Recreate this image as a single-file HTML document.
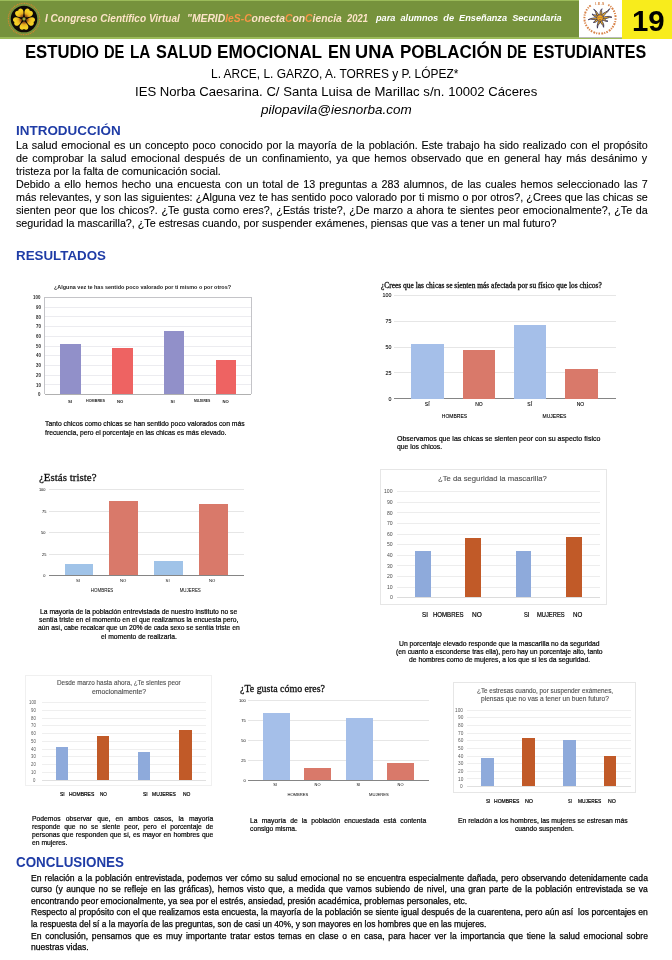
<!DOCTYPE html>
<html lang="es"><head><meta charset="utf-8"><title>Estudio de la salud emocional en una población de estudiantes</title>
<style>
html,body{margin:0;padding:0;background:#fff;}
#p{position:relative;width:672px;height:960px;overflow:hidden;background:#fff;}
#p div{position:absolute;}
#p svg{position:absolute;}
#p .t{white-space:pre;line-height:normal;transform-origin:0 0;}
</style></head><body><div id="p">
<div style="left:0.00px;top:0.00px;width:672.00px;height:38.50px;background:#9bbb59;"></div>
<div style="left:0.00px;top:1.20px;width:579.20px;height:35.80px;background:#76923c;"></div>
<div style="left:579.20px;top:0.00px;width:43.00px;height:38.00px;background:#fff;border-bottom:1px solid #bbb;box-sizing:border-box;"></div>
<div style="left:622.20px;top:0.00px;width:50.00px;height:38.50px;background:#f8ec1c;"></div>
<svg style="left:6.2px;top:0.9px" width="36" height="36" viewBox="-18 -18 36 36">
<defs><radialGradient id="fg" cx="0" cy="0" r="9" gradientUnits="userSpaceOnUse"><stop offset="0" stop-color="#5a2c10"/><stop offset="0.42" stop-color="#9a5418"/><stop offset="0.7" stop-color="#e9b01e"/><stop offset="1" stop-color="#f4cf25"/></radialGradient></defs>
<circle r="15.7" fill="none" stroke="#d9852e" stroke-width="1.1" stroke-dasharray="1.2 0.8 0.8 0.7"/>
<circle r="13.3" fill="#0c0907"/>
<g fill="url(#fg)" transform="scale(0.92)"><path d="M0,-2.2 C-2.2,-4 -6.2,-7.6 -4.3,-10.6 C-3.2,-12.3 -1,-12 0,-10.9 C1,-12 3.2,-12.3 4.3,-10.6 C6.2,-7.6 2.2,-4 0,-2.2Z" transform="rotate(36)"/><path d="M0,-2.2 C-2.2,-4 -6.2,-7.6 -4.3,-10.6 C-3.2,-12.3 -1,-12 0,-10.9 C1,-12 3.2,-12.3 4.3,-10.6 C6.2,-7.6 2.2,-4 0,-2.2Z" transform="rotate(108)"/><path d="M0,-2.2 C-2.2,-4 -6.2,-7.6 -4.3,-10.6 C-3.2,-12.3 -1,-12 0,-10.9 C1,-12 3.2,-12.3 4.3,-10.6 C6.2,-7.6 2.2,-4 0,-2.2Z" transform="rotate(180)"/><path d="M0,-2.2 C-2.2,-4 -6.2,-7.6 -4.3,-10.6 C-3.2,-12.3 -1,-12 0,-10.9 C1,-12 3.2,-12.3 4.3,-10.6 C6.2,-7.6 2.2,-4 0,-2.2Z" transform="rotate(252)"/><path d="M0,-2.2 C-2.2,-4 -6.2,-7.6 -4.3,-10.6 C-3.2,-12.3 -1,-12 0,-10.9 C1,-12 3.2,-12.3 4.3,-10.6 C6.2,-7.6 2.2,-4 0,-2.2Z" transform="rotate(324)"/></g>
<circle r="1.7" fill="#8d9630"/><circle r="0.7" fill="#c9c24a"/>
</svg>
<svg style="left:582px;top:-0.2px" width="36" height="36" viewBox="-18 -18 36 36">
<path d="M8.27,-13.23 A15.6,15.6 0 1 1 -8.27,-13.23" fill="none" stroke="#d8844a" stroke-width="2.0" stroke-dasharray="1.5 1.2 1.1 1 1.9 1.3"/><text x="0" y="-12.6" font-family="Liberation Sans, sans-serif" font-size="3.3" font-weight="700" fill="#cf7434" text-anchor="middle" letter-spacing="0.5">I.E.S</text>
<g fill="#f6b21c" stroke="#2d2c58" stroke-width="0.75" stroke-linejoin="round"><path d="M-1.05,-2.4 C-2.25,-4.86 0.80,-7.56 -0.50,-10.80 C1.40,-7.78 0.05,-4.86 1.05,-2.4Z" transform="rotate(-33)"/><path d="M-1.05,-2.4 C0.15,-4.28 -2.00,-6.65 0.50,-9.50 C-0.40,-6.84 2.45,-4.28 1.05,-2.4Z" transform="rotate(9)"/><path d="M-1.05,-2.4 C-2.25,-6.08 0.80,-9.45 -0.50,-13.50 C1.40,-9.72 0.05,-6.08 1.05,-2.4Z" transform="rotate(48)"/><path d="M-1.05,-2.4 C0.15,-5.40 -2.00,-8.40 0.50,-12.00 C-0.40,-8.64 2.45,-5.40 1.05,-2.4Z" transform="rotate(84)"/><path d="M-1.05,-2.4 C-2.25,-3.87 0.80,-6.02 -0.50,-8.60 C1.40,-6.19 0.05,-3.87 1.05,-2.4Z" transform="rotate(115)"/><path d="M-1.05,-2.4 C0.15,-4.50 -2.00,-7.00 0.50,-10.00 C-0.40,-7.20 2.45,-4.50 1.05,-2.4Z" transform="rotate(156)"/><path d="M-1.05,-2.4 C-2.25,-4.73 0.80,-7.35 -0.50,-10.50 C1.40,-7.56 0.05,-4.73 1.05,-2.4Z" transform="rotate(197)"/><path d="M-1.05,-2.4 C0.15,-3.60 -2.00,-5.60 0.50,-8.00 C-0.40,-5.76 2.45,-3.60 1.05,-2.4Z" transform="rotate(233)"/><path d="M-1.05,-2.4 C-2.25,-5.40 0.80,-8.40 -0.50,-12.00 C1.40,-8.64 0.05,-5.40 1.05,-2.4Z" transform="rotate(264)"/><path d="M-1.05,-2.4 C0.15,-3.96 -2.00,-6.16 0.50,-8.80 C-0.40,-6.34 2.45,-3.96 1.05,-2.4Z" transform="rotate(294)"/></g>
<circle r="3.3" fill="#f3a620" stroke="#3a3560" stroke-width="0.6"/>
<path d="M-1.6,-0.6h1M0.6,-0.6h1M-1.2,1.3q1.2,0.9 2.4,0" stroke="#4a3a50" stroke-width="0.5" fill="none"/>
</svg>
<div style="left:44.70px;top:394.00px;width:206.55px;height:0.80px;background:#b0b0b0;"></div>
<div style="left:44.70px;top:384.30px;width:206.55px;height:0.80px;background:#ececf0;"></div>
<div style="left:44.70px;top:374.60px;width:206.55px;height:0.80px;background:#ececf0;"></div>
<div style="left:44.70px;top:364.90px;width:206.55px;height:0.80px;background:#ececf0;"></div>
<div style="left:44.70px;top:355.20px;width:206.55px;height:0.80px;background:#ececf0;"></div>
<div style="left:44.70px;top:345.50px;width:206.55px;height:0.80px;background:#ececf0;"></div>
<div style="left:44.70px;top:335.80px;width:206.55px;height:0.80px;background:#ececf0;"></div>
<div style="left:44.70px;top:326.10px;width:206.55px;height:0.80px;background:#ececf0;"></div>
<div style="left:44.70px;top:316.40px;width:206.55px;height:0.80px;background:#ececf0;"></div>
<div style="left:44.70px;top:306.70px;width:206.55px;height:0.80px;background:#ececf0;"></div>
<div style="left:44.70px;top:297.00px;width:206.55px;height:0.80px;background:#ececf0;"></div>
<div style="left:44.30px;top:297.40px;width:0.80px;height:97.00px;background:#c4c4c8;"></div>
<div style="left:250.85px;top:297.40px;width:0.80px;height:97.00px;background:#c4c4c8;"></div>
<div style="left:44.70px;top:297.00px;width:206.55px;height:0.80px;background:#c4c4c8;"></div>
<div style="left:60.30px;top:343.96px;width:21.00px;height:50.44px;background:#9190c9;"></div>
<div style="left:112.00px;top:347.84px;width:20.50px;height:46.56px;background:#ee6362;"></div>
<div style="left:163.75px;top:331.35px;width:20.50px;height:63.05px;background:#9190c9;"></div>
<div style="left:215.50px;top:360.45px;width:20.25px;height:33.95px;background:#ee6362;"></div>
<div style="left:393.50px;top:398.25px;width:222.00px;height:0.90px;background:#858585;"></div>
<div style="left:393.50px;top:372.40px;width:222.00px;height:0.90px;background:#e6e6e6;"></div>
<div style="left:393.50px;top:346.55px;width:222.00px;height:0.90px;background:#e6e6e6;"></div>
<div style="left:393.50px;top:320.70px;width:222.00px;height:0.90px;background:#e6e6e6;"></div>
<div style="left:393.50px;top:294.85px;width:222.00px;height:0.90px;background:#e6e6e6;"></div>
<div style="left:411.30px;top:343.90px;width:32.90px;height:54.80px;background:#a5bfe9;"></div>
<div style="left:462.50px;top:350.10px;width:32.50px;height:48.60px;background:#d9796a;"></div>
<div style="left:513.75px;top:325.29px;width:32.50px;height:73.41px;background:#a5bfe9;"></div>
<div style="left:564.50px;top:368.71px;width:33.00px;height:29.99px;background:#d9796a;"></div>
<div style="left:49.00px;top:575.05px;width:194.50px;height:0.90px;background:#858585;"></div>
<div style="left:49.00px;top:553.61px;width:194.50px;height:0.90px;background:#e6e6e6;"></div>
<div style="left:49.00px;top:532.17px;width:194.50px;height:0.90px;background:#e6e6e6;"></div>
<div style="left:49.00px;top:510.74px;width:194.50px;height:0.90px;background:#e6e6e6;"></div>
<div style="left:49.00px;top:489.30px;width:194.50px;height:0.90px;background:#e6e6e6;"></div>
<div style="left:64.50px;top:564.35px;width:28.75px;height:11.15px;background:#a0c3e8;"></div>
<div style="left:109.25px;top:500.90px;width:28.75px;height:74.60px;background:#d9796a;"></div>
<div style="left:154.25px;top:560.92px;width:28.50px;height:14.58px;background:#a0c3e8;"></div>
<div style="left:199.25px;top:504.33px;width:28.25px;height:71.17px;background:#d9796a;"></div>
<div style="left:380.00px;top:468.50px;width:226.50px;height:136.00px;background:#fff;border:1px solid #e6e6e6;box-sizing:border-box;"></div>
<div style="left:397.00px;top:597.10px;width:202.50px;height:0.80px;background:#dcdcdc;"></div>
<div style="left:397.00px;top:586.50px;width:202.50px;height:0.80px;background:#ededed;"></div>
<div style="left:397.00px;top:575.90px;width:202.50px;height:0.80px;background:#ededed;"></div>
<div style="left:397.00px;top:565.30px;width:202.50px;height:0.80px;background:#ededed;"></div>
<div style="left:397.00px;top:554.70px;width:202.50px;height:0.80px;background:#ededed;"></div>
<div style="left:397.00px;top:544.10px;width:202.50px;height:0.80px;background:#ededed;"></div>
<div style="left:397.00px;top:533.50px;width:202.50px;height:0.80px;background:#ededed;"></div>
<div style="left:397.00px;top:522.90px;width:202.50px;height:0.80px;background:#ededed;"></div>
<div style="left:397.00px;top:512.30px;width:202.50px;height:0.80px;background:#ededed;"></div>
<div style="left:397.00px;top:501.70px;width:202.50px;height:0.80px;background:#ededed;"></div>
<div style="left:397.00px;top:491.10px;width:202.50px;height:0.80px;background:#ededed;"></div>
<div style="left:415.00px;top:550.86px;width:15.50px;height:46.64px;background:#8eaadb;"></div>
<div style="left:465.25px;top:538.14px;width:15.75px;height:59.36px;background:#c15a28;"></div>
<div style="left:515.50px;top:550.86px;width:15.50px;height:46.64px;background:#8eaadb;"></div>
<div style="left:566.00px;top:537.08px;width:15.50px;height:60.42px;background:#c15a28;"></div>
<div style="left:25.00px;top:675.30px;width:186.50px;height:111.20px;background:#fff;border:1px solid #f0f0f0;box-sizing:border-box;"></div>
<div style="left:42.00px;top:779.60px;width:164.30px;height:0.80px;background:#e0e0e0;"></div>
<div style="left:42.00px;top:771.86px;width:164.30px;height:0.80px;background:#efefef;"></div>
<div style="left:42.00px;top:764.12px;width:164.30px;height:0.80px;background:#efefef;"></div>
<div style="left:42.00px;top:756.38px;width:164.30px;height:0.80px;background:#efefef;"></div>
<div style="left:42.00px;top:748.64px;width:164.30px;height:0.80px;background:#efefef;"></div>
<div style="left:42.00px;top:740.90px;width:164.30px;height:0.80px;background:#efefef;"></div>
<div style="left:42.00px;top:733.16px;width:164.30px;height:0.80px;background:#efefef;"></div>
<div style="left:42.00px;top:725.42px;width:164.30px;height:0.80px;background:#efefef;"></div>
<div style="left:42.00px;top:717.68px;width:164.30px;height:0.80px;background:#efefef;"></div>
<div style="left:42.00px;top:709.94px;width:164.30px;height:0.80px;background:#efefef;"></div>
<div style="left:42.00px;top:702.20px;width:164.30px;height:0.80px;background:#efefef;"></div>
<div style="left:55.50px;top:746.72px;width:12.50px;height:33.28px;background:#8eaadb;"></div>
<div style="left:96.50px;top:735.88px;width:12.50px;height:44.12px;background:#c15a28;"></div>
<div style="left:137.50px;top:752.14px;width:12.50px;height:27.86px;background:#8eaadb;"></div>
<div style="left:178.50px;top:730.46px;width:13.00px;height:49.54px;background:#c15a28;"></div>
<div style="left:248.00px;top:779.80px;width:180.50px;height:0.90px;background:#858585;"></div>
<div style="left:248.00px;top:759.80px;width:180.50px;height:0.90px;background:#e6e6e6;"></div>
<div style="left:248.00px;top:739.80px;width:180.50px;height:0.90px;background:#e6e6e6;"></div>
<div style="left:248.00px;top:719.80px;width:180.50px;height:0.90px;background:#e6e6e6;"></div>
<div style="left:248.00px;top:699.80px;width:180.50px;height:0.90px;background:#e6e6e6;"></div>
<div style="left:263.00px;top:713.05px;width:26.50px;height:67.20px;background:#a5bfe9;"></div>
<div style="left:304.25px;top:768.25px;width:26.50px;height:12.00px;background:#d9796a;"></div>
<div style="left:345.75px;top:717.85px;width:26.75px;height:62.40px;background:#a5bfe9;"></div>
<div style="left:387.00px;top:762.65px;width:26.75px;height:17.60px;background:#d9796a;"></div>
<div style="left:452.75px;top:682.00px;width:183.50px;height:110.75px;background:#fff;border:1px solid #e6e6e6;box-sizing:border-box;"></div>
<div style="left:467.00px;top:786.10px;width:163.50px;height:0.80px;background:#e0e0e0;"></div>
<div style="left:467.00px;top:778.45px;width:163.50px;height:0.80px;background:#efefef;"></div>
<div style="left:467.00px;top:770.80px;width:163.50px;height:0.80px;background:#efefef;"></div>
<div style="left:467.00px;top:763.15px;width:163.50px;height:0.80px;background:#efefef;"></div>
<div style="left:467.00px;top:755.50px;width:163.50px;height:0.80px;background:#efefef;"></div>
<div style="left:467.00px;top:747.85px;width:163.50px;height:0.80px;background:#efefef;"></div>
<div style="left:467.00px;top:740.20px;width:163.50px;height:0.80px;background:#efefef;"></div>
<div style="left:467.00px;top:732.55px;width:163.50px;height:0.80px;background:#efefef;"></div>
<div style="left:467.00px;top:724.90px;width:163.50px;height:0.80px;background:#efefef;"></div>
<div style="left:467.00px;top:717.25px;width:163.50px;height:0.80px;background:#efefef;"></div>
<div style="left:467.00px;top:709.60px;width:163.50px;height:0.80px;background:#efefef;"></div>
<div style="left:481.00px;top:757.74px;width:13.00px;height:28.76px;background:#8eaadb;"></div>
<div style="left:522.10px;top:738.30px;width:12.50px;height:48.20px;background:#c15a28;"></div>
<div style="left:563.10px;top:740.29px;width:12.50px;height:46.21px;background:#8eaadb;"></div>
<div style="left:603.90px;top:755.67px;width:12.60px;height:30.83px;background:#c15a28;"></div>
<div class="t" style='left:44.50px;top:12.00px;font:italic 700 10.9px "Liberation Sans", sans-serif;color:#fde4c8;transform:scaleX(0.9231);'>I Congreso Científico Virtual</div>
<div class="t" style='left:186.55px;top:12.00px;font:italic 700 10.9px "Liberation Sans", sans-serif;color:#fde4c8;transform:scaleX(0.9488);'>"MERID<span style="color:#f79646">IeS-C</span>onecta<span style="color:#f79646">C</span>on<span style="color:#f79646">C</span>iencia</div>
<div class="t" style='left:347.11px;top:12.00px;font:italic 700 10.9px "Liberation Sans", sans-serif;color:#fde4c8;transform:scaleX(0.8641);'>2021</div>
<div class="t" style='left:375.50px;top:13.30px;font:italic 700 9.2px "Liberation Sans", sans-serif;color:#fff;transform:scaleX(0.9987);'>para  alumnos  de  Enseñanza  Secundaria</div>
<div class="t" style='left:631.72px;top:4.50px;font:normal 700 28.6px "Liberation Sans", sans-serif;color:#000;transform:scaleX(1.0283);'>19</div>
<div class="t" style='left:25.33px;top:42.30px;font:normal 700 18.2px "Liberation Sans", sans-serif;color:#000;transform:scaleX(0.9160);'>ESTUDIO</div>
<div class="t" style='left:104.19px;top:42.30px;font:normal 700 18.2px "Liberation Sans", sans-serif;color:#000;transform:scaleX(0.8080);'>DE</div>
<div class="t" style='left:129.66px;top:42.30px;font:normal 700 18.2px "Liberation Sans", sans-serif;color:#000;transform:scaleX(0.8438);'>LA</div>
<div class="t" style='left:155.50px;top:42.30px;font:normal 700 18.2px "Liberation Sans", sans-serif;color:#000;transform:scaleX(0.8919);'>SALUD</div>
<div class="t" style='left:217.05px;top:42.30px;font:normal 700 18.2px "Liberation Sans", sans-serif;color:#000;transform:scaleX(0.9452);'>EMOCIONAL</div>
<div class="t" style='left:327.85px;top:42.30px;font:normal 700 18.2px "Liberation Sans", sans-serif;color:#000;transform:scaleX(0.8971);'>EN</div>
<div class="t" style='left:355.25px;top:42.30px;font:normal 700 18.2px "Liberation Sans", sans-serif;color:#000;transform:scaleX(0.9995);'>UNA</div>
<div class="t" style='left:400.32px;top:42.30px;font:normal 700 18.2px "Liberation Sans", sans-serif;color:#000;transform:scaleX(0.9347);'>POBLACIÓN</div>
<div class="t" style='left:507.21px;top:42.30px;font:normal 700 18.2px "Liberation Sans", sans-serif;color:#000;transform:scaleX(0.7873);'>DE</div>
<div class="t" style='left:532.87px;top:42.30px;font:normal 700 18.2px "Liberation Sans", sans-serif;color:#000;transform:scaleX(0.8824);'>ESTUDIANTES</div>
<div class="t" style='left:211.07px;top:66.00px;font:12.8px "Liberation Sans", sans-serif;color:#000;transform:scaleX(0.9326);'>L. ARCE, L. GARZO, A. TORRES y P. LÓPEZ*</div>
<div class="t" style='left:134.72px;top:84.00px;font:12.8px "Liberation Sans", sans-serif;color:#000;transform:scaleX(1.0262);'>IES Norba Caesarina. C/ Santa Luisa de Marillac s/n. 10002 Cáceres</div>
<div class="t" style='left:260.55px;top:101.50px;font:italic 400 12.8px "Liberation Sans", sans-serif;color:#000;transform:scaleX(1.0536);'>pilopavila@iesnorba.com</div>
<div class="t" style='left:15.75px;top:122.75px;font:normal 700 13px "Liberation Sans", sans-serif;color:#1f3ca6;transform:scaleX(1.0351);'>INTRODUCCIÓN</div>
<div class="t" style='left:15.90px;top:139.00px;font:10.67px "Liberation Sans", sans-serif;color:#000;transform:scaleX(1.0080);word-spacing:0.847px;-webkit-text-stroke:0.1px;'>La salud emocional es un concepto poco conocido por la mayoría de la población. Este trabajo ha sido realizado con el propósito</div>
<div class="t" style='left:15.90px;top:151.93px;font:10.67px "Liberation Sans", sans-serif;color:#000;transform:scaleX(1.0080);word-spacing:1.404px;-webkit-text-stroke:0.1px;'>de comprobar la salud emocional después de un confinamiento, ya que hemos observado que en general hay más desánimo y</div>
<div class="t" style='left:15.90px;top:164.86px;font:10.67px "Liberation Sans", sans-serif;color:#000;transform:scaleX(1.0080);-webkit-text-stroke:0.1px;'>tristeza por la falta de comunicación social.</div>
<div class="t" style='left:15.90px;top:177.79px;font:10.67px "Liberation Sans", sans-serif;color:#000;transform:scaleX(1.0080);word-spacing:1.184px;-webkit-text-stroke:0.1px;'>Debido a ello hemos hecho una encuesta con un total de 13 preguntas a 283 alumnos, de las cuales hemos seleccionado las 7</div>
<div class="t" style='left:15.90px;top:190.72px;font:10.67px "Liberation Sans", sans-serif;color:#000;transform:scaleX(1.0080);word-spacing:0.210px;-webkit-text-stroke:0.1px;'>más relevantes, y son las siguientes: ¿Alguna vez te has sentido poco valorado por ti mismo o por otros?, ¿Crees que las chicas se</div>
<div class="t" style='left:15.90px;top:203.65px;font:10.67px "Liberation Sans", sans-serif;color:#000;transform:scaleX(1.0080);word-spacing:0.657px;-webkit-text-stroke:0.1px;'>sienten peor que los chicos?. ¿Te gusta como eres?, ¿Estás triste?, ¿De marzo a ahora te sientes peor emocionalmente?, ¿Te da</div>
<div class="t" style='left:15.90px;top:216.58px;font:10.67px "Liberation Sans", sans-serif;color:#000;transform:scaleX(1.0080);-webkit-text-stroke:0.1px;'>seguridad la mascarilla?, ¿Te estresas cuando, por suspender exámenes, piensas que vas a tener un mal futuro?</div>
<div class="t" style='left:15.75px;top:247.50px;font:normal 700 13px "Liberation Sans", sans-serif;color:#1f3ca6;transform:scaleX(1.0261);'>RESULTADOS</div>
<div class="t" style='left:38.04px;top:392.20px;font:normal 700 4.8px "Liberation Sans", sans-serif;color:#2a2a2a;transform:scaleX(0.9200);'>0</div>
<div class="t" style='left:35.59px;top:382.50px;font:normal 700 4.8px "Liberation Sans", sans-serif;color:#2a2a2a;transform:scaleX(0.9200);'>10</div>
<div class="t" style='left:35.59px;top:372.80px;font:normal 700 4.8px "Liberation Sans", sans-serif;color:#2a2a2a;transform:scaleX(0.9200);'>20</div>
<div class="t" style='left:35.59px;top:363.10px;font:normal 700 4.8px "Liberation Sans", sans-serif;color:#2a2a2a;transform:scaleX(0.9200);'>30</div>
<div class="t" style='left:35.59px;top:353.40px;font:normal 700 4.8px "Liberation Sans", sans-serif;color:#2a2a2a;transform:scaleX(0.9200);'>40</div>
<div class="t" style='left:35.59px;top:343.70px;font:normal 700 4.8px "Liberation Sans", sans-serif;color:#2a2a2a;transform:scaleX(0.9200);'>50</div>
<div class="t" style='left:35.59px;top:334.00px;font:normal 700 4.8px "Liberation Sans", sans-serif;color:#2a2a2a;transform:scaleX(0.9200);'>60</div>
<div class="t" style='left:35.59px;top:324.30px;font:normal 700 4.8px "Liberation Sans", sans-serif;color:#2a2a2a;transform:scaleX(0.9200);'>70</div>
<div class="t" style='left:35.59px;top:314.60px;font:normal 700 4.8px "Liberation Sans", sans-serif;color:#2a2a2a;transform:scaleX(0.9200);'>80</div>
<div class="t" style='left:35.59px;top:304.90px;font:normal 700 4.8px "Liberation Sans", sans-serif;color:#2a2a2a;transform:scaleX(0.9200);'>90</div>
<div class="t" style='left:33.13px;top:295.20px;font:normal 700 4.8px "Liberation Sans", sans-serif;color:#2a2a2a;transform:scaleX(0.9200);'>100</div>
<div class="t" style='left:54.25px;top:284.00px;font:normal 700 5.9px "Liberation Sans", sans-serif;color:#222;transform:scaleX(0.9264);'>¿Alguna vez te has sentido poco valorado por ti mismo o por otros?</div>
<div class="t" style='left:68.10px;top:399.00px;font:normal 700 4.2px "Liberation Sans", sans-serif;color:#222;'>SI</div>
<div class="t" style='left:85.75px;top:398.30px;font:normal 700 4.2px "Liberation Sans", sans-serif;color:#222;transform:scaleX(0.8908);'>HOMBRES</div>
<div class="t" style='left:116.99px;top:399.00px;font:normal 700 4.2px "Liberation Sans", sans-serif;color:#222;'>NO</div>
<div class="t" style='left:170.60px;top:399.00px;font:normal 700 4.2px "Liberation Sans", sans-serif;color:#222;'>SI</div>
<div class="t" style='left:194.00px;top:398.30px;font:normal 700 4.2px "Liberation Sans", sans-serif;color:#222;transform:scaleX(0.8068);'>MUJERES</div>
<div class="t" style='left:222.49px;top:398.60px;font:normal 700 4.2px "Liberation Sans", sans-serif;color:#222;'>NO</div>
<div class="t" style='left:45.40px;top:419.10px;font:7.2px "Liberation Sans", sans-serif;color:#000;transform:scaleX(0.9485);-webkit-text-stroke:0.2px;'>Tanto chicos como chicas se han sentido poco valorados con más</div>
<div class="t" style='left:45.40px;top:427.60px;font:7.2px "Liberation Sans", sans-serif;color:#000;transform:scaleX(0.9414);-webkit-text-stroke:0.2px;'>frecuencia, pero el porcentaje en las chicas es más elevado.</div>
<div class="t" style='left:388.40px;top:395.70px;font:5.3px "Liberation Sans", sans-serif;color:#111;-webkit-text-stroke:0.1px;'>0</div>
<div class="t" style='left:385.45px;top:369.85px;font:5.3px "Liberation Sans", sans-serif;color:#111;-webkit-text-stroke:0.1px;'>25</div>
<div class="t" style='left:385.45px;top:344.00px;font:5.3px "Liberation Sans", sans-serif;color:#111;-webkit-text-stroke:0.1px;'>50</div>
<div class="t" style='left:385.45px;top:318.15px;font:5.3px "Liberation Sans", sans-serif;color:#111;-webkit-text-stroke:0.1px;'>75</div>
<div class="t" style='left:382.51px;top:292.30px;font:5.3px "Liberation Sans", sans-serif;color:#111;-webkit-text-stroke:0.1px;'>100</div>
<div class="t" style='left:381.00px;top:281.00px;font:7.4px "Liberation Serif", serif;color:#111;transform:scaleX(1.0064);-webkit-text-stroke:0.3px;'>¿Crees que las chicas se sienten más afectada por su físico que los chicos?</div>
<div class="t" style='left:424.83px;top:400.50px;font:5px "Liberation Sans", sans-serif;color:#000;-webkit-text-stroke:0.1px;'>SÍ</div>
<div class="t" style='left:475.19px;top:400.50px;font:5px "Liberation Sans", sans-serif;color:#000;-webkit-text-stroke:0.1px;'>NO</div>
<div class="t" style='left:527.33px;top:400.50px;font:5px "Liberation Sans", sans-serif;color:#000;-webkit-text-stroke:0.1px;'>SÍ</div>
<div class="t" style='left:576.69px;top:400.50px;font:5px "Liberation Sans", sans-serif;color:#000;-webkit-text-stroke:0.1px;'>NO</div>
<div class="t" style='left:441.83px;top:413.00px;font:5px "Liberation Sans", sans-serif;color:#000;-webkit-text-stroke:0.1px;'>HOMBRES</div>
<div class="t" style='left:542.52px;top:413.00px;font:5px "Liberation Sans", sans-serif;color:#000;-webkit-text-stroke:0.1px;'>MUJERES</div>
<div class="t" style='left:397.00px;top:433.80px;font:7.2px "Liberation Sans", sans-serif;color:#000;transform:scaleX(0.9758);-webkit-text-stroke:0.2px;'>Observamos que las chicas se sienten peor con su aspecto físico</div>
<div class="t" style='left:397.00px;top:442.40px;font:7.2px "Liberation Sans", sans-serif;color:#000;transform:scaleX(0.9500);-webkit-text-stroke:0.2px;'>que los chicos.</div>
<div class="t" style='left:43.25px;top:573.00px;font:3.9px "Liberation Sans", sans-serif;color:#000;'>0</div>
<div class="t" style='left:42.09px;top:551.56px;font:3.9px "Liberation Sans", sans-serif;color:#000;'>25</div>
<div class="t" style='left:41.09px;top:530.12px;font:3.9px "Liberation Sans", sans-serif;color:#000;'>50</div>
<div class="t" style='left:42.09px;top:508.69px;font:3.9px "Liberation Sans", sans-serif;color:#000;'>75</div>
<div class="t" style='left:38.92px;top:487.25px;font:3.9px "Liberation Sans", sans-serif;color:#000;'>100</div>
<div class="t" style='left:39.00px;top:471.00px;font:11.3px "Liberation Serif", serif;color:#111;transform:scaleX(0.9701);-webkit-text-stroke:0.3px;'>¿Estás triste?</div>
<div class="t" style='left:76.10px;top:577.60px;font:4.2px "Liberation Sans", sans-serif;color:#000;'>SÍ</div>
<div class="t" style='left:119.99px;top:577.60px;font:4.2px "Liberation Sans", sans-serif;color:#000;'>NO</div>
<div class="t" style='left:165.60px;top:577.60px;font:4.2px "Liberation Sans", sans-serif;color:#000;'>SÍ</div>
<div class="t" style='left:208.99px;top:577.60px;font:4.2px "Liberation Sans", sans-serif;color:#000;'>NO</div>
<div class="t" style='left:90.86px;top:588.30px;font:4.45px "Liberation Sans", sans-serif;color:#000;'>HOMBRES</div>
<div class="t" style='left:179.63px;top:588.30px;font:4.45px "Liberation Sans", sans-serif;color:#000;'>MUJERES</div>
<div class="t" style='left:40.41px;top:606.80px;font:7.2px "Liberation Sans", sans-serif;color:#000;transform:scaleX(0.9400);-webkit-text-stroke:0.2px;'>La mayoría de la población entrevistada de nuestro instituto no se</div>
<div class="t" style='left:39.29px;top:615.05px;font:7.2px "Liberation Sans", sans-serif;color:#000;transform:scaleX(0.9400);-webkit-text-stroke:0.2px;'>sentía triste en el momento en el que realizamos la encuesta pero,</div>
<div class="t" style='left:38.15px;top:623.30px;font:7.2px "Liberation Sans", sans-serif;color:#000;transform:scaleX(0.9400);-webkit-text-stroke:0.2px;'>aún así, cabe recalcar que un 20% de cada sexo se sentía triste en</div>
<div class="t" style='left:101.07px;top:631.55px;font:7.2px "Liberation Sans", sans-serif;color:#000;transform:scaleX(0.9400);-webkit-text-stroke:0.2px;'>el momento de realizarla.</div>
<div class="t" style='left:389.55px;top:594.40px;font:5.4px "Liberation Sans", sans-serif;color:#4a4a4a;transform:scaleX(0.9500);'>0</div>
<div class="t" style='left:386.70px;top:583.80px;font:5.4px "Liberation Sans", sans-serif;color:#4a4a4a;transform:scaleX(0.9500);'>10</div>
<div class="t" style='left:386.70px;top:573.20px;font:5.4px "Liberation Sans", sans-serif;color:#4a4a4a;transform:scaleX(0.9500);'>20</div>
<div class="t" style='left:386.70px;top:562.60px;font:5.4px "Liberation Sans", sans-serif;color:#4a4a4a;transform:scaleX(0.9500);'>30</div>
<div class="t" style='left:386.70px;top:552.00px;font:5.4px "Liberation Sans", sans-serif;color:#4a4a4a;transform:scaleX(0.9500);'>40</div>
<div class="t" style='left:386.70px;top:541.40px;font:5.4px "Liberation Sans", sans-serif;color:#4a4a4a;transform:scaleX(0.9500);'>50</div>
<div class="t" style='left:386.70px;top:530.80px;font:5.4px "Liberation Sans", sans-serif;color:#4a4a4a;transform:scaleX(0.9500);'>60</div>
<div class="t" style='left:386.70px;top:520.20px;font:5.4px "Liberation Sans", sans-serif;color:#4a4a4a;transform:scaleX(0.9500);'>70</div>
<div class="t" style='left:386.70px;top:509.60px;font:5.4px "Liberation Sans", sans-serif;color:#4a4a4a;transform:scaleX(0.9500);'>80</div>
<div class="t" style='left:386.70px;top:499.00px;font:5.4px "Liberation Sans", sans-serif;color:#4a4a4a;transform:scaleX(0.9500);'>90</div>
<div class="t" style='left:383.85px;top:488.40px;font:5.4px "Liberation Sans", sans-serif;color:#4a4a4a;transform:scaleX(0.9500);'>100</div>
<div class="t" style='left:437.75px;top:474.00px;font:8px "Liberation Sans", sans-serif;color:#505050;transform:scaleX(0.9626);-webkit-text-stroke:0.12px;'>¿Te da seguridad la mascarilla?</div>
<div class="t" style='left:422.00px;top:610.50px;font:6.8px "Liberation Sans", sans-serif;color:#000;transform:scaleX(0.9183);-webkit-text-stroke:0.2px;'>SI</div>
<div class="t" style='left:433.00px;top:610.50px;font:6.8px "Liberation Sans", sans-serif;color:#000;transform:scaleX(0.8900);-webkit-text-stroke:0.2px;'>HOMBRES</div>
<div class="t" style='left:472.00px;top:610.50px;font:6.8px "Liberation Sans", sans-serif;color:#000;transform:scaleX(0.9588);-webkit-text-stroke:0.2px;'>NO</div>
<div class="t" style='left:523.50px;top:610.50px;font:6.8px "Liberation Sans", sans-serif;color:#000;transform:scaleX(0.8418);-webkit-text-stroke:0.2px;'>SI</div>
<div class="t" style='left:536.50px;top:610.50px;font:6.8px "Liberation Sans", sans-serif;color:#000;transform:scaleX(0.8499);-webkit-text-stroke:0.2px;'>MUJERES</div>
<div class="t" style='left:573.00px;top:610.50px;font:6.8px "Liberation Sans", sans-serif;color:#000;transform:scaleX(0.9083);-webkit-text-stroke:0.2px;'>NO</div>
<div class="t" style='left:399.02px;top:639.00px;font:7.2px "Liberation Sans", sans-serif;color:#000;transform:scaleX(0.9400);-webkit-text-stroke:0.2px;'>Un porcentaje elevado responde que la mascarilla no da seguridad</div>
<div class="t" style='left:396.01px;top:647.20px;font:7.2px "Liberation Sans", sans-serif;color:#000;transform:scaleX(0.9400);-webkit-text-stroke:0.2px;'>(en cuanto a esconderse tras ella), pero hay un porcentaje alto, tanto</div>
<div class="t" style='left:408.79px;top:655.40px;font:7.2px "Liberation Sans", sans-serif;color:#000;transform:scaleX(0.9400);-webkit-text-stroke:0.2px;'>de hombres como de mujeres, a los que sí les da seguridad.</div>
<div class="t" style='left:33.35px;top:777.60px;font:4.5px "Liberation Sans", sans-serif;color:#595959;transform:scaleX(0.9500);'>0</div>
<div class="t" style='left:30.97px;top:769.86px;font:4.5px "Liberation Sans", sans-serif;color:#595959;transform:scaleX(0.9500);'>10</div>
<div class="t" style='left:30.97px;top:762.12px;font:4.5px "Liberation Sans", sans-serif;color:#595959;transform:scaleX(0.9500);'>20</div>
<div class="t" style='left:30.97px;top:754.38px;font:4.5px "Liberation Sans", sans-serif;color:#595959;transform:scaleX(0.9500);'>30</div>
<div class="t" style='left:30.97px;top:746.64px;font:4.5px "Liberation Sans", sans-serif;color:#595959;transform:scaleX(0.9500);'>40</div>
<div class="t" style='left:30.97px;top:738.90px;font:4.5px "Liberation Sans", sans-serif;color:#595959;transform:scaleX(0.9500);'>50</div>
<div class="t" style='left:30.97px;top:731.16px;font:4.5px "Liberation Sans", sans-serif;color:#595959;transform:scaleX(0.9500);'>60</div>
<div class="t" style='left:30.97px;top:723.42px;font:4.5px "Liberation Sans", sans-serif;color:#595959;transform:scaleX(0.9500);'>70</div>
<div class="t" style='left:30.97px;top:715.68px;font:4.5px "Liberation Sans", sans-serif;color:#595959;transform:scaleX(0.9500);'>80</div>
<div class="t" style='left:30.97px;top:707.94px;font:4.5px "Liberation Sans", sans-serif;color:#595959;transform:scaleX(0.9500);'>90</div>
<div class="t" style='left:28.59px;top:700.20px;font:4.5px "Liberation Sans", sans-serif;color:#595959;transform:scaleX(0.9500);'>100</div>
<div class="t" style='left:56.50px;top:679.40px;font:6.6px "Liberation Sans", sans-serif;color:#505050;transform:scaleX(0.9645);-webkit-text-stroke:0.12px;'>Desde marzo hasta ahora, ¿Te sientes peor</div>
<div class="t" style='left:91.50px;top:687.60px;font:6.6px "Liberation Sans", sans-serif;color:#505050;transform:scaleX(1.0405);-webkit-text-stroke:0.12px;'>emocionalmente?</div>
<div class="t" style='left:60.00px;top:791.00px;font:5.6px "Liberation Sans", sans-serif;color:#000;transform:scaleX(0.8724);-webkit-text-stroke:0.2px;'>SI</div>
<div class="t" style='left:68.50px;top:791.00px;font:5.6px "Liberation Sans", sans-serif;color:#000;transform:scaleX(0.8931);-webkit-text-stroke:0.2px;'>HOMBRES</div>
<div class="t" style='left:100.00px;top:791.00px;font:5.6px "Liberation Sans", sans-serif;color:#000;transform:scaleX(0.8297);-webkit-text-stroke:0.2px;'>NO</div>
<div class="t" style='left:142.50px;top:791.00px;font:5.6px "Liberation Sans", sans-serif;color:#000;transform:scaleX(0.8724);-webkit-text-stroke:0.2px;'>SI</div>
<div class="t" style='left:152.00px;top:791.00px;font:5.6px "Liberation Sans", sans-serif;color:#000;transform:scaleX(0.8890);-webkit-text-stroke:0.2px;'>MUJERES</div>
<div class="t" style='left:183.00px;top:791.00px;font:5.6px "Liberation Sans", sans-serif;color:#000;transform:scaleX(0.8850);-webkit-text-stroke:0.2px;'>NO</div>
<div class="t" style='left:32.20px;top:813.50px;font:7.2px "Liberation Sans", sans-serif;color:#000;transform:scaleX(0.9400);word-spacing:3.525px;-webkit-text-stroke:0.2px;'>Podemos observar que, en ambos casos, la mayoría</div>
<div class="t" style='left:32.20px;top:821.75px;font:7.2px "Liberation Sans", sans-serif;color:#000;transform:scaleX(0.9400);word-spacing:2.294px;-webkit-text-stroke:0.2px;'>responde que no se siente peor, pero el porcentaje de</div>
<div class="t" style='left:32.20px;top:830.00px;font:7.2px "Liberation Sans", sans-serif;color:#000;transform:scaleX(0.9400);word-spacing:0.475px;-webkit-text-stroke:0.2px;'>personas que responden que sí, es mayor en hombres que</div>
<div class="t" style='left:32.20px;top:838.25px;font:7.2px "Liberation Sans", sans-serif;color:#000;transform:scaleX(0.9400);-webkit-text-stroke:0.2px;'>en mujeres.</div>
<div class="t" style='left:243.50px;top:777.75px;font:4px "Liberation Sans", sans-serif;color:#000;'>0</div>
<div class="t" style='left:241.28px;top:757.75px;font:4px "Liberation Sans", sans-serif;color:#000;'>25</div>
<div class="t" style='left:241.28px;top:737.75px;font:4px "Liberation Sans", sans-serif;color:#000;'>50</div>
<div class="t" style='left:241.28px;top:717.75px;font:4px "Liberation Sans", sans-serif;color:#000;'>75</div>
<div class="t" style='left:239.05px;top:697.75px;font:4px "Liberation Sans", sans-serif;color:#000;'>100</div>
<div class="t" style='left:239.50px;top:683.20px;font:10px "Liberation Serif", serif;color:#111;transform:scaleX(0.9918);-webkit-text-stroke:0.3px;'>¿Te gusta cómo eres?</div>
<div class="t" style='left:273.20px;top:782.00px;font:3.9px "Liberation Sans", sans-serif;color:#000;'>SÍ</div>
<div class="t" style='left:314.60px;top:782.00px;font:3.9px "Liberation Sans", sans-serif;color:#000;'>NO</div>
<div class="t" style='left:356.45px;top:782.00px;font:3.9px "Liberation Sans", sans-serif;color:#000;'>SÍ</div>
<div class="t" style='left:397.60px;top:782.00px;font:3.9px "Liberation Sans", sans-serif;color:#000;'>NO</div>
<div class="t" style='left:287.41px;top:791.50px;font:4.15px "Liberation Sans", sans-serif;color:#000;'>HOMBRES</div>
<div class="t" style='left:369.09px;top:791.50px;font:4.15px "Liberation Sans", sans-serif;color:#000;'>MUJERES</div>
<div class="t" style='left:250.00px;top:815.80px;font:7.2px "Liberation Sans", sans-serif;color:#000;transform:scaleX(0.9400);word-spacing:2.411px;-webkit-text-stroke:0.2px;'>La mayoría de la población encuestada está contenta</div>
<div class="t" style='left:250.00px;top:824.10px;font:7.2px "Liberation Sans", sans-serif;color:#000;transform:scaleX(0.9400);-webkit-text-stroke:0.2px;'>consigo misma.</div>
<div class="t" style='left:460.40px;top:783.30px;font:5px "Liberation Sans", sans-serif;color:#595959;transform:scaleX(0.9500);'>0</div>
<div class="t" style='left:457.76px;top:775.65px;font:5px "Liberation Sans", sans-serif;color:#595959;transform:scaleX(0.9500);'>10</div>
<div class="t" style='left:457.76px;top:768.00px;font:5px "Liberation Sans", sans-serif;color:#595959;transform:scaleX(0.9500);'>20</div>
<div class="t" style='left:457.76px;top:760.35px;font:5px "Liberation Sans", sans-serif;color:#595959;transform:scaleX(0.9500);'>30</div>
<div class="t" style='left:457.76px;top:752.70px;font:5px "Liberation Sans", sans-serif;color:#595959;transform:scaleX(0.9500);'>40</div>
<div class="t" style='left:457.76px;top:745.05px;font:5px "Liberation Sans", sans-serif;color:#595959;transform:scaleX(0.9500);'>50</div>
<div class="t" style='left:457.76px;top:737.40px;font:5px "Liberation Sans", sans-serif;color:#595959;transform:scaleX(0.9500);'>60</div>
<div class="t" style='left:457.76px;top:729.75px;font:5px "Liberation Sans", sans-serif;color:#595959;transform:scaleX(0.9500);'>70</div>
<div class="t" style='left:457.76px;top:722.10px;font:5px "Liberation Sans", sans-serif;color:#595959;transform:scaleX(0.9500);'>80</div>
<div class="t" style='left:457.76px;top:714.45px;font:5px "Liberation Sans", sans-serif;color:#595959;transform:scaleX(0.9500);'>90</div>
<div class="t" style='left:455.12px;top:706.80px;font:5px "Liberation Sans", sans-serif;color:#595959;transform:scaleX(0.9500);'>100</div>
<div class="t" style='left:476.70px;top:686.60px;font:6.4px "Liberation Sans", sans-serif;color:#505050;transform:scaleX(0.9950);-webkit-text-stroke:0.12px;'>¿Te estresas cuando, por suspender exámenes,</div>
<div class="t" style='left:481.00px;top:694.60px;font:6.4px "Liberation Sans", sans-serif;color:#505050;transform:scaleX(1.0377);-webkit-text-stroke:0.12px;'>piensas que no vas a tener un buen futuro?</div>
<div class="t" style='left:485.75px;top:798.00px;font:5.8px "Liberation Sans", sans-serif;color:#000;transform:scaleX(0.7671);-webkit-text-stroke:0.2px;'>SI</div>
<div class="t" style='left:494.00px;top:798.00px;font:5.8px "Liberation Sans", sans-serif;color:#000;transform:scaleX(0.8661);-webkit-text-stroke:0.2px;'>HOMBRES</div>
<div class="t" style='left:524.75px;top:798.00px;font:5.8px "Liberation Sans", sans-serif;color:#000;transform:scaleX(0.9253);-webkit-text-stroke:0.2px;'>NO</div>
<div class="t" style='left:568.00px;top:798.00px;font:5.8px "Liberation Sans", sans-serif;color:#000;transform:scaleX(0.6818);-webkit-text-stroke:0.2px;'>SI</div>
<div class="t" style='left:577.50px;top:798.00px;font:5.8px "Liberation Sans", sans-serif;color:#000;transform:scaleX(0.8353);-webkit-text-stroke:0.2px;'>MUJERES</div>
<div class="t" style='left:607.50px;top:798.00px;font:5.8px "Liberation Sans", sans-serif;color:#000;transform:scaleX(0.8981);-webkit-text-stroke:0.2px;'>NO</div>
<div class="t" style='left:458.00px;top:816.40px;font:7.2px "Liberation Sans", sans-serif;color:#000;transform:scaleX(0.9499);-webkit-text-stroke:0.2px;'>En relación a los hombres, las mujeres se estresan más</div>
<div class="t" style='left:514.50px;top:824.40px;font:7.2px "Liberation Sans", sans-serif;color:#000;transform:scaleX(0.9363);-webkit-text-stroke:0.2px;'>cuando suspenden.</div>
<div class="t" style='left:16.25px;top:853.50px;font:normal 700 14.2px "Liberation Sans", sans-serif;color:#1f3ca6;transform:scaleX(0.9444);'>CONCLUSIONES</div>
<div class="t" style='left:31.00px;top:872.80px;font:8.8px "Liberation Sans", sans-serif;color:#000;transform:scaleX(0.9750);word-spacing:0.729px;-webkit-text-stroke:0.25px;'>En relación a la población entrevistada, podemos ver cómo su salud emocional no se encuentra especialmente dañada, pero observando detenidamente cada</div>
<div class="t" style='left:31.00px;top:884.35px;font:8.8px "Liberation Sans", sans-serif;color:#000;transform:scaleX(0.9750);word-spacing:1.229px;-webkit-text-stroke:0.25px;'>curso (y aunque no se refleje en las gráficas), hemos visto que, a medida que vamos subiendo de nivel, una gran parte de la población entrevistada se va</div>
<div class="t" style='left:31.00px;top:895.90px;font:8.8px "Liberation Sans", sans-serif;color:#000;transform:scaleX(0.9750);-webkit-text-stroke:0.25px;'>encontrando peor emocionalmente, ya sea por el estrés, ansiedad, presión académica, problemas personales, etc.</div>
<div class="t" style='left:31.00px;top:907.45px;font:8.8px "Liberation Sans", sans-serif;color:#000;transform:scaleX(0.9750);word-spacing:0.087px;-webkit-text-stroke:0.25px;'>Respecto al propósito con el que realizamos esta encuesta, la mayoría de la población se siente igual después de la cuarentena, pero aún así  los porcentajes en</div>
<div class="t" style='left:31.00px;top:919.00px;font:8.8px "Liberation Sans", sans-serif;color:#000;transform:scaleX(0.9582);-webkit-text-stroke:0.25px;'>la respuesta del sí a la mayoría de las preguntas, son de casi un 40%, y son mayores en los hombres que en las mujeres.</div>
<div class="t" style='left:31.00px;top:930.55px;font:8.8px "Liberation Sans", sans-serif;color:#000;transform:scaleX(0.9750);word-spacing:1.388px;-webkit-text-stroke:0.25px;'>En conclusión, pensamos que es muy importante tratar estos temas en clase o en casa, para hacer ver la importancia que tiene la salud emocional sobre</div>
<div class="t" style='left:31.00px;top:942.10px;font:8.8px "Liberation Sans", sans-serif;color:#000;transform:scaleX(0.9750);-webkit-text-stroke:0.25px;'>nuestras vidas.</div>
</div></body></html>
